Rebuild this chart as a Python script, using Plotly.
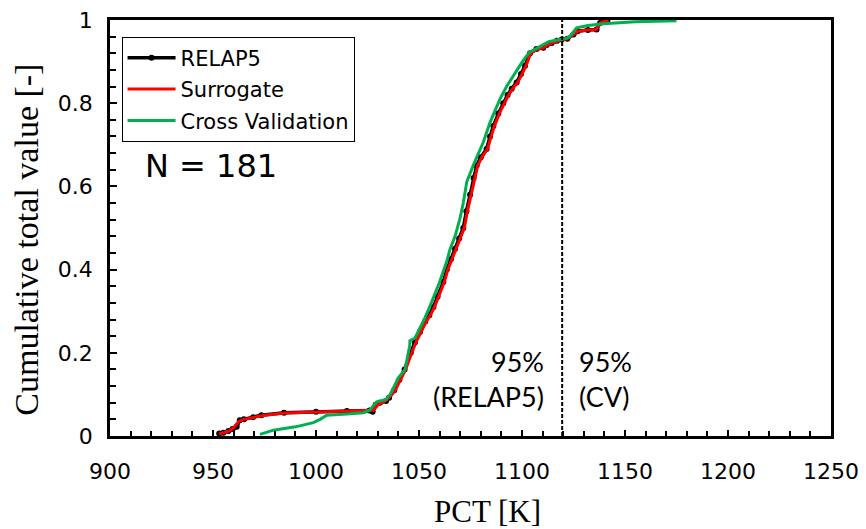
import plotly.graph_objects as go

# RELAP5 (black, with markers)
relap_x = [953.0, 955.0, 957.5, 959.5, 961.5, 963.0, 965.0, 969.5, 973.5, 984.5, 1000.0, 1015.0,
           1026.0, 1027.5, 1029.0, 1031.0, 1034.0, 1035.5, 1038.0, 1040.5, 1043.0, 1046.0, 1048.0,
           1050.5, 1053.0, 1055.0, 1057.0, 1059.0, 1061.8, 1063.5, 1065.5, 1067.5, 1069.5, 1071.5,
           1073.0, 1074.8, 1076.5, 1078.0, 1080.0, 1082.8, 1084.5, 1086.1, 1088.5, 1090.9, 1093.0,
           1095.0, 1097.4, 1099.5, 1101.5, 1103.9, 1107.0, 1110.3, 1112.0, 1114.4, 1117.0, 1119.3,
           1122.0, 1125.0, 1127.0, 1132.0, 1136.2, 1137.9, 1141.5]
relap_y = [0.006, 0.008, 0.012, 0.017, 0.022, 0.038, 0.040, 0.045, 0.050, 0.056, 0.058, 0.060,
           0.061, 0.058, 0.075, 0.080, 0.084, 0.092, 0.110, 0.135, 0.160, 0.200, 0.225,
           0.250, 0.275, 0.290, 0.310, 0.335, 0.370, 0.400, 0.425, 0.450, 0.475, 0.500,
           0.540, 0.580, 0.620, 0.650, 0.670, 0.690, 0.720, 0.745, 0.775, 0.800, 0.820,
           0.835, 0.850, 0.870, 0.890, 0.920, 0.930, 0.933, 0.940, 0.945, 0.950, 0.953,
           0.955, 0.965, 0.973, 0.976, 0.977, 0.993, 1.000]

# Surrogate (red)
sur_x = [953.0, 958.0, 960.0, 962.5, 965.0, 970.0, 975.0, 985.0, 1000.0, 1025.0, 1028.0, 1030.0,
         1034.0, 1036.0, 1038.5, 1041.0, 1043.5, 1046.5, 1048.5, 1051.0, 1053.5, 1055.5, 1057.5,
         1059.5, 1062.3, 1064.0, 1066.0, 1068.0, 1070.0, 1072.0, 1073.5, 1075.3, 1077.0, 1078.5,
         1080.5, 1083.3, 1085.0, 1086.6, 1089.0, 1091.4, 1093.5, 1095.5, 1097.9, 1100.0, 1102.0,
         1104.2, 1107.5, 1110.5, 1112.5, 1114.8, 1117.5, 1119.5, 1122.0, 1125.0, 1127.0, 1132.0,
         1136.0, 1138.0, 1142.0]
sur_y = [0.005, 0.012, 0.020, 0.035, 0.040, 0.045, 0.050, 0.055, 0.057, 0.060, 0.062, 0.075,
         0.085, 0.095, 0.110, 0.135, 0.160, 0.200, 0.225, 0.250, 0.275, 0.290, 0.310,
         0.335, 0.370, 0.400, 0.425, 0.450, 0.475, 0.500, 0.540, 0.580, 0.620, 0.650,
         0.670, 0.690, 0.720, 0.745, 0.775, 0.800, 0.820, 0.835, 0.850, 0.870, 0.890,
         0.920, 0.930, 0.933, 0.940, 0.945, 0.950, 0.953, 0.955, 0.965, 0.973, 0.976,
         0.977, 0.993, 1.000]

# Cross Validation (green)
cv_x = [972.8, 975.0, 979.3, 990.0, 998.7, 1002.0, 1005.2, 1015.0, 1023.0, 1026.0, 1029.5, 1034.0,
        1036.0, 1040.0, 1043.2, 1045.5, 1045.6, 1048.0, 1050.0, 1053.0, 1056.0, 1060.0, 1063.5,
        1065.0, 1067.5, 1069.9, 1071.5, 1073.2, 1076.4, 1078.5, 1081.2, 1084.5, 1087.0, 1089.3,
        1092.5, 1095.7, 1099.8, 1103.5, 1108.0, 1113.0, 1118.0, 1121.0, 1123.3, 1126.5, 1132.0,
        1139.5, 1155.0, 1175.0]
cv_y = [0.004, 0.008, 0.014, 0.022, 0.032, 0.040, 0.050, 0.053, 0.056, 0.062, 0.082, 0.088,
        0.100, 0.140, 0.160, 0.217, 0.229, 0.235, 0.255, 0.285, 0.320, 0.370, 0.420,
        0.448, 0.480, 0.523, 0.560, 0.611, 0.651, 0.675, 0.706, 0.754, 0.785, 0.810,
        0.840, 0.866, 0.897, 0.922, 0.935, 0.948, 0.953, 0.955, 0.961, 0.981, 0.987,
        0.991, 0.996, 0.998]

pct95 = 1119.5

fig = go.Figure()
fig.add_trace(go.Scatter(x=relap_x, y=relap_y, name="RELAP5", mode="lines+markers", legendgroup="a",
                         line=dict(color="black", width=3.5), marker=dict(color="black", size=6)))
fig.add_trace(go.Scatter(x=sur_x, y=sur_y, name="Surrogate", mode="lines", legendgroup="b",
                         line=dict(color="#ff0000", width=3)))
fig.add_trace(go.Scatter(x=cv_x, y=cv_y, name="Cross Validation", mode="lines", legendgroup="c",
                         line=dict(color="#00b050", width=3)))

fig.add_shape(type="line", x0=pct95, x1=pct95, y0=0, y1=1, xref="x", yref="y",
              line=dict(color="black", width=2, dash="4px,2px"))

fig.add_annotation(x=1111.8, y=0.138, xref="x", yref="y", text="95%<br>(RELAP5)",
                   showarrow=False, xanchor="right", yanchor="middle", align="right",
                   font=dict(family="Lato", size=27, color="black"))
fig.add_annotation(x=1126.5, y=0.138, xref="x", yref="y", text="95%<br>(CV)",
                   showarrow=False, xanchor="left", yanchor="middle", align="left",
                   font=dict(family="Lato", size=27, color="black"))
fig.add_annotation(x=0.046, y=0.650, xref="paper", yref="paper", text="N = 181",
                   showarrow=False, xanchor="left", yanchor="middle",
                   font=dict(family="DejaVu Sans", size=32, color="black"))

# axis titles
fig.add_annotation(x=0.524, y=-0.181, xref="paper", yref="paper", text="PCT [K]",
                   showarrow=False, xanchor="center", yanchor="middle",
                   font=dict(family="Liberation Serif", size=31, color="black"))
fig.add_annotation(x=-0.115, y=0.472, xref="paper", yref="paper", text="Cumulative total value [-]",
                   showarrow=False, xanchor="center", yanchor="middle", textangle=-90,
                   font=dict(family="Liberation Serif", size=34, color="black"))

axis_common = dict(showline=True, linecolor="black", linewidth=2.5, mirror=True,
                   ticks="inside", tickcolor="black", showgrid=False, zeroline=False,
                   automargin=False, ticklabeloverflow="allow",
                   tickfont=dict(family="DejaVu Sans", size=22, color="black"))

fig.update_xaxes(range=[900, 1250], dtick=50, tick0=900, ticklen=6, tickwidth=1.5,
                 minor=dict(dtick=10, ticks="inside", ticklen=5, tickcolor="black", tickwidth=1.5),
                 ticklabelstandoff=14, **axis_common)
fig.update_yaxes(range=[0, 1], dtick=0.2, tick0=0, ticklen=7, tickwidth=1.5,
                 minor=dict(dtick=0.04, ticks="inside", ticklen=6, tickcolor="black", tickwidth=1.5),
                 ticklabelstandoff=10, **axis_common)

fig.update_layout(
    width=858, height=521,
    margin=dict(l=102, r=35, t=12, b=93),
    plot_bgcolor="white", paper_bgcolor="white",
    showlegend=True,
    legend=dict(x=0.016, y=0.96, xanchor="left", yanchor="top",
                bordercolor="black", borderwidth=1, bgcolor="white",
                font=dict(family="DejaVu Sans", size=21, color="black"),
                tracegroupgap=1, itemwidth=48),
)

fig.write_html("out.html")
